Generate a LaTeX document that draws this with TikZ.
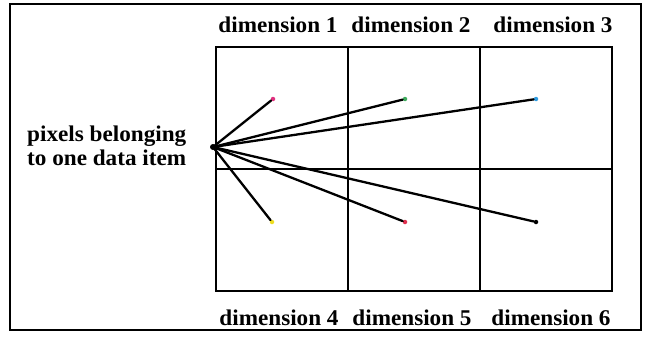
\documentclass[tikz,border=0pt]{standalone}
\usepackage{fontspec}
\setmainfont{Liberation Serif}
\usetikzlibrary{positioning}
\definecolor{dotPink}{HTML}{E0307F}
\definecolor{dotGreen}{HTML}{3DAA5C}
\definecolor{dotBlue}{HTML}{2E9BE0}
\definecolor{dotYellow}{HTML}{EEDD22}
\definecolor{dotRed}{HTML}{E0304F}
\begin{document}
\begin{tikzpicture}[
        x=1pt, y=-1pt,
        label/.style={font=\fontsize{22.5}{24}\selectfont\bfseries, inner sep=0pt, xscale=1.03, transform shape},
        cell/.style={draw, line width=1.6pt, minimum width=132pt, minimum height=122pt, inner sep=0pt, outer sep=0pt},
        tip/.style={circle, inner sep=0pt, minimum size=4.5pt, fill=#1},
        ray/.style={line width=2.3pt, line cap=round}
      ]
        \useasboundingbox (0,0) rectangle (652,340);
        \draw[line width=2pt] (10,4) rectangle (641,330);
        % grid of dimensions
        \node[cell] (c1) at (282,108) {};
        \node[cell, right=0pt of c1] (c2) {};
        \node[cell, right=0pt of c2] (c3) {};
        \node[cell, below=0pt of c1] (c4) {};
        \node[cell, below=0pt of c2] (c5) {};
        \node[cell, below=0pt of c3] (c6) {};
        \node[label] (d1) at (278,25) {dimension 1};
        \node[label] (d2) at (411,25) {dimension 2};
        \node[label] (d3) at (553,25) {dimension 3};
        \node[label] (d4) at (279,318) {dimension 4};
        \node[label] (d5) at (412,318) {dimension 5};
        \node[label] (d6) at (551,318) {dimension 6};
        \node[label, align=left, anchor=west] (item) at (27,146) {pixels belonging\\to one data item};
        % one data item
        \coordinate (src) at (213,147);
        \node[tip=dotPink] (p1) at (273,99) {};
        \node[tip=dotGreen] (p2) at (405,99) {};
        \node[tip=dotBlue] (p3) at (536,99) {};
        \node[tip=dotYellow] (p4) at (272,222) {};
        \node[tip=dotRed] (p5) at (405,222) {};
        \node[tip=black] (p6) at (536,222) {};
        \foreach \p in {p1,p2,p3,p4,p5,p6}
          \draw[ray] (src) -- (\p);
        \fill (src) circle (3pt);
      \end{tikzpicture}
\end{document}
